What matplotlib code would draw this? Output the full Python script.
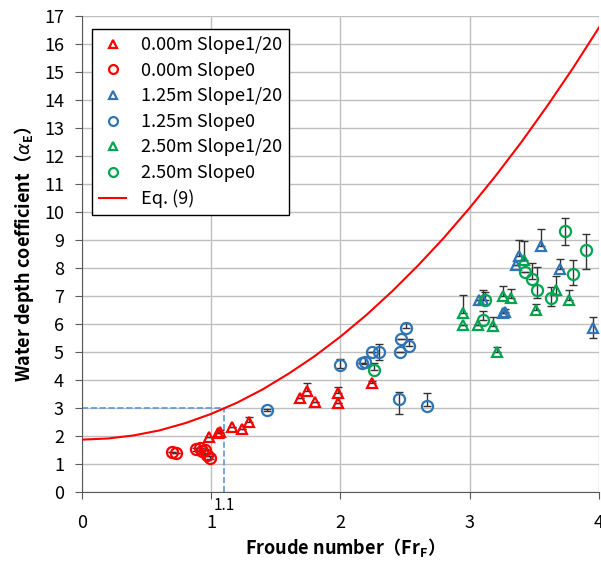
import numpy as np
import matplotlib
matplotlib.use('Agg')
import matplotlib.pyplot as plt

plt.rcParams['font.family'] = ['Noto Sans CJK JP', 'DejaVu Sans']
plt.rcParams['mathtext.fontset'] = 'dejavusans'

## data
# Eq. (9) curve
eq_fr = [0.0, 0.2, 0.4, 0.6, 0.8, 1.0, 1.2, 1.4, 1.6, 1.8, 2.0,
         2.2, 2.4, 2.6, 2.8, 3.0, 3.2, 3.4, 3.6, 3.8, 4.0]
eq_a = [1.87, 1.91, 2.02, 2.20, 2.46, 2.79, 3.19, 3.67, 4.23, 4.85, 5.55,
        6.32, 7.17, 8.09, 9.08, 10.15, 11.29, 12.50, 13.79, 15.15, 16.59]

# 0.00m slope 1/20
r_tri_x = [0.98, 1.05, 1.07, 1.16, 1.24, 1.29, 1.69, 1.74, 1.80, 1.98, 1.98, 2.24]
r_tri_y = [1.97, 2.12, 2.16, 2.33, 2.25, 2.51, 3.36, 3.61, 3.22, 3.54, 3.18, 3.90]
r_tri_lo = [0, 0, 0, 0, 0, 0, 0, 0, 0, 0, 0, 0]
r_tri_hi = [0, 0, 0.05, 0, 0, 0.18, 0, 0.3, 0, 0.2, 0, 0.05]

# 0.00m slope 0
r_cir_x = [0.70, 0.73, 0.88, 0.91, 0.93, 0.95, 0.97, 0.99]
r_cir_y = [1.42, 1.40, 1.52, 1.58, 1.45, 1.50, 1.32, 1.22]
r_cir_lo = [0, 0, 0.05, 0, 0.05, 0, 0.05, 0.05]
r_cir_hi = [0, 0, 0.05, 0, 0.05, 0, 0.05, 0.05]

# 1.25m slope 1/20
b_tri_x = [3.07, 3.10, 3.26, 3.27, 3.36, 3.38, 3.55, 3.70, 3.95]
b_tri_y = [6.84, 6.87, 6.41, 6.44, 8.12, 8.44, 8.77, 7.98, 5.87]
b_tri_lo = [0, 0, 0, 0, 0, 0, 0, 0, 0.36]
b_tri_hi = [0, 0.36, 0, 0.1, 0, 0.57, 0.64, 0.33, 0.39]

# 1.25m slope 0
b_cir_x = [1.43, 2.00, 2.17, 2.19, 2.24, 2.30, 2.46, 2.47, 2.51, 2.53, 2.45, 2.67]
b_cir_y = [2.93, 4.52, 4.60, 4.66, 5.00, 5.00, 5.00, 5.47, 5.87, 5.23, 3.33, 3.08]
b_cir_lo = [0.05, 0.1, 0, 0.1, 0, 0.28, 0, 0, 0, 0, 0.55, 0]
b_cir_hi = [0.05, 0.24, 0, 0.17, 0, 0.3, 0, 0, 0.15, 0.25, 0.25, 0.45]

# 2.50m slope 1/20
g_tri_x = [2.95, 2.95, 3.06, 3.18, 3.21, 3.26, 3.32, 3.42, 3.51, 3.67, 3.77]
g_tri_y = [6.41, 5.98, 5.98, 5.94, 5.01, 7.01, 6.94, 8.30, 6.51, 7.23, 6.84]
g_tri_lo = [0, 0, 0, 0, 0, 0, 0, 0, 0, 0.2, 0]
g_tri_hi = [0.64, 0, 0, 0.3, 0.18, 0.33, 0.32, 0.65, 0.2, 0.48, 0.36]

# 2.50m slope 0
g_cir_x = [2.26, 3.10, 3.12, 3.43, 3.48, 3.52, 3.63, 3.74, 3.80, 3.90]
g_cir_y = [4.37, 6.15, 6.85, 7.87, 7.62, 7.23, 6.94, 9.31, 7.80, 8.66]
g_cir_lo = [0, 0, 0, 0, 0, 0.29, 0.3, 0.5, 0.4, 0.68]
g_cir_hi = [0.24, 0.3, 0.3, 0, 0.57, 0.82, 0.39, 0.46, 0.5, 0.54]

red = '#FF0000'
blue = '#2E75B6'
green = '#00A550'

series = [
    (r_tri_x, r_tri_y, r_tri_lo, r_tri_hi, '^', red, '0.00m Slope1/20'),
    (r_cir_x, r_cir_y, r_cir_lo, r_cir_hi, 'o', red, '0.00m Slope0'),
    (b_tri_x, b_tri_y, b_tri_lo, b_tri_hi, '^', blue, '1.25m Slope1/20'),
    (b_cir_x, b_cir_y, b_cir_lo, b_cir_hi, 'o', blue, '1.25m Slope0'),
    (g_tri_x, g_tri_y, g_tri_lo, g_tri_hi, '^', green, '2.50m Slope1/20'),
    (g_cir_x, g_cir_y, g_cir_lo, g_cir_hi, 'o', green, '2.50m Slope0'),
]

fig = plt.figure(figsize=(6.01, 5.62), dpi=100)
ax = fig.add_axes([0.1364, 0.1246, 0.8603, 0.8469])

# guide lines for Fr = 1.1
ax.plot([0, 1.1], [3, 3], color='#5B9BD5', ls='--', lw=1.2, zorder=2)
ax.plot([1.1, 1.1], [0, 3], color='#5B9BD5', ls='--', lw=1.2, zorder=2)

handles = []
for x, y, lo, hi, m, c, lab in series:
    ax.errorbar(x, y, yerr=[lo, hi], fmt='none', ecolor='#333333',
                elinewidth=1, capsize=3, capthick=1, zorder=3)
    ms = 7 if m == '^' else 8
    h, = ax.plot(x, y, ls='none', marker=m, ms=ms, mfc='none', mec=c,
                 mew=1.6, label=lab, zorder=4)
    handles.append(h)

h, = ax.plot(eq_fr, eq_a, color=red, lw=1.5, label='Eq. (9)', zorder=5)
handles.append(h)

ax.set_xlim(0, 4)
ax.set_ylim(0, 17)
ax.set_xticks([0, 1, 2, 3, 4])
ax.set_yticks(range(0, 18))
ax.grid(True, color='#BFBFBF', lw=1)
ax.set_axisbelow(True)
for s in ['top', 'right']:
    ax.spines[s].set_visible(False)
ax.spines['left'].set_color('#595959')
ax.spines['bottom'].set_color('#595959')
ax.tick_params(axis='y', length=5, pad=8, labelsize=13, color='#595959')
ax.tick_params(axis='x', length=5, pad=11, labelsize=13, color='#595959')

ax.text(1.1, -0.5, '1.1', ha='center', va='center', fontsize=11, clip_on=False)

ax.set_xlabel('Froude number（Fr$_\\mathregular{F}$）', fontsize=13,
              fontweight='bold', labelpad=3)
ax.set_ylabel('Water depth coefficient（$\\alpha_\\mathregular{E}$）', fontsize=13,
              fontweight='bold', labelpad=6)

leg = ax.legend(handles=handles, loc='upper left', bbox_to_anchor=(0.019, 0.973),
                borderaxespad=0, fontsize=13, labelspacing=0.42,
                fancybox=False, edgecolor='black', framealpha=1,
                handlelength=1.5, markerscale=0.8)
leg.get_frame().set_linewidth(1)

fig.savefig('out.png', dpi=100)
